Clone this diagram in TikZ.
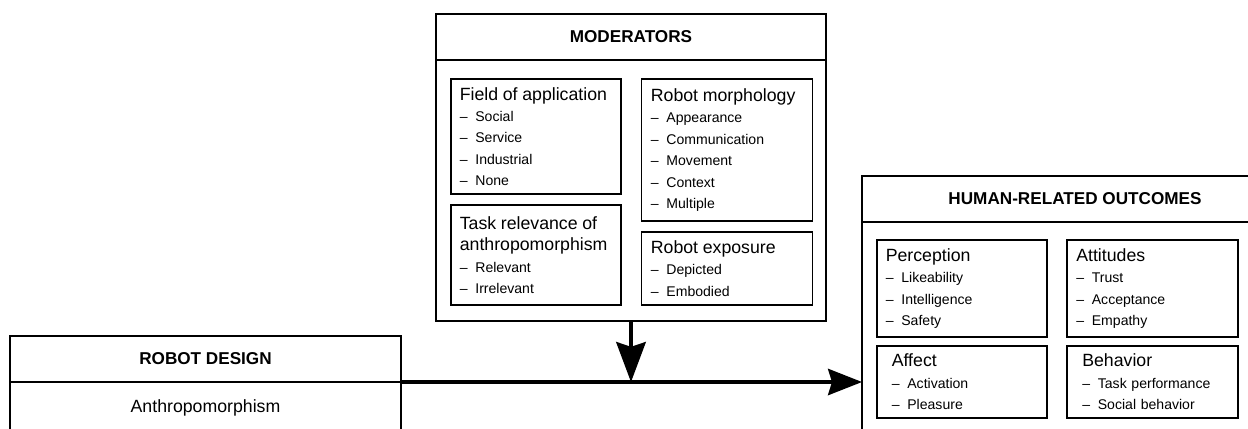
\documentclass[tikz,border=0pt]{standalone}
\usepackage{fontspec}
\setmainfont{Liberation Sans}
\usepackage{tikz}
\usetikzlibrary{positioning, arrows.meta}

\newcommand{\panelhead}{\fontsize{12.6}{15.2}\selectfont}
\newcommand{\panelitem}{\fontsize{10}{15.2}\selectfont}
\newcommand{\dashitem}[1]{\\\textendash\hspace{0.55em}#1}

\begin{document}
\begin{tikzpicture}[
    box/.style={draw, line width=1.1pt, outer sep=0pt, inner sep=0pt},
    header/.style={box, minimum height=1.15cm, font=\bfseries\fontsize{12.2}{14}\selectfont},
    panel/.style={draw, line width=1pt, outer sep=0pt, minimum width=4.25cm,
      inner xsep=0.22cm, inner ysep=2pt, text width=3.81cm, align=left, font=\panelitem},
    flow/.style={line width=2.2pt, -{Stealth[length=0.85cm, width=0.66cm, inset=0.1cm]}},
    bigflow/.style={flow, -{Stealth[length=1cm, width=0.74cm, inset=0.12cm]}}
  ]
  \path[clip, use as bounding box] (0,0) rectangle (31.2,10.7);

  % robot design (left)
  \node[header, minimum width=9.775cm, anchor=north west] (design) at (0.25,2.3) {ROBOT DESIGN};
  \node[box, minimum width=9.775cm, minimum height=1.3cm, below=0pt of design, font=\panelhead] (designbody) {Anthropomorphism};

  % moderators (top)
  \node[header, minimum width=9.75cm, anchor=north west] (moderators) at (10.9,10.35) {MODERATORS};
  \node[box, minimum width=9.75cm, minimum height=6.52cm, below=0pt of moderators] (modbody) {};

  \node[panel, minimum height=2.875cm, anchor=north west] (field) at (11.275,8.725)
    {{\panelhead Field of application}\dashitem{Social}\dashitem{Service}\dashitem{Industrial}\dashitem{None}};
  \node[panel, minimum height=3.55cm, minimum width=4.275cm, anchor=north west] (morphology) at (16.04,8.725)
    {{\panelhead Robot morphology}\dashitem{Appearance}\dashitem{Communication}\dashitem{Movement}\dashitem{Context}\dashitem{Multiple}};
  \node[panel, minimum height=2.5cm, below=0.275cm of field] (relevance)
    {{\panelhead Task relevance of}\\{\panelhead anthropomorphism}\dashitem{Relevant}\dashitem{Irrelevant}};
  \node[panel, minimum height=1.825cm, minimum width=4.275cm, below=0.275cm of morphology] (exposure)
    {{\panelhead Robot exposure}\dashitem{Depicted}\dashitem{Embodied}};

  % outcomes (right)
  \node[header, minimum width=10.65cm, anchor=north west] (outcomes) at (21.55,6.3) {HUMAN-RELATED OUTCOMES};
  \node[box, minimum width=10.65cm, minimum height=5.5cm, below=0pt of outcomes] (outbody) {};

  \node[panel, minimum height=2.425cm, anchor=north west] (perception) at (21.925,4.7)
    {{\panelhead Perception}\dashitem{Likeability}\dashitem{Intelligence}\dashitem{Safety}};
  \node[panel, minimum height=2.425cm, minimum width=4.275cm, right=0.5cm of perception] (attitudes)
    {{\panelhead Attitudes}\dashitem{Trust}\dashitem{Acceptance}\dashitem{Empathy}};
  \node[panel, minimum height=1.8cm, inner xsep=0.37cm, text width=3.51cm, below=0.225cm of perception] (affect)
    {{\panelhead Affect}\dashitem{Activation}\dashitem{Pleasure}};
  \node[panel, minimum height=1.8cm, minimum width=4.275cm, inner xsep=0.37cm, text width=3.51cm, below=0.225cm of attitudes] (behavior)
    {{\panelhead Behavior}\dashitem{Task performance}\dashitem{Social behavior}};

  % arrows
  \coordinate (join) at (modbody.south |- design.south east);
  \draw[bigflow] (modbody.south) -- (join);
  \draw[flow] (design.south east) -- (design.south east -| outbody.west);
\end{tikzpicture}
\end{document}
